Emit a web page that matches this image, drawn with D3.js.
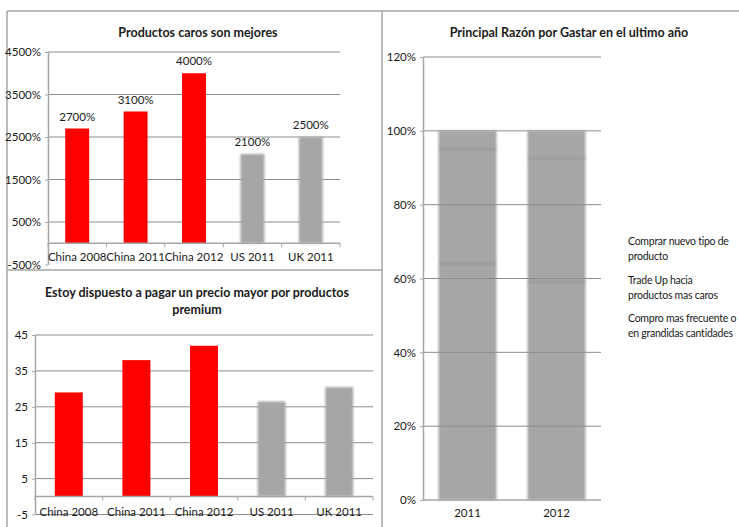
<!DOCTYPE html>
<html>
<head>
<meta charset="utf-8">
<script src="https://cdn.jsdelivr.net/npm/d3@7"></script>
<style>
  html, body { margin: 0; padding: 0; background: #fff; }
  svg { display: block; }
  text { font-family: "Lato", "Liberation Sans", sans-serif; fill: #1a1a1a; }
</style>
</head>
<body>
<svg id="chart" width="739" height="527"></svg>
<script>
// ---- data ----
const countryYears = ["China 2008", "China 2011", "China 2012", "US 2011", "UK 2011"];
const barColors = ["#ff0000", "#ff0000", "#ff0000", "#a6a6a6", "#a6a6a6"];

// "Productos caros son mejores" (%)
const caroValues = [2700, 3100, 4000, 2100, 2500];
const caroTicks = [-500, 500, 1500, 2500, 3500, 4500];

// "Estoy dispuesto a pagar un precio mayor por productos premium"
const premiumValues = [29, 38, 42, 26.5, 30.5];
const premiumTicks = [-5, 5, 15, 25, 35, 45];

// "Principal Razón por Gastar en el ultimo año" (stacked, %)
const years = ["2011", "2012"];
const comproMas = [64, 59];
const tradeUp = [31, 33.5];
const nuevoTipo = [5, 7.5];
const razonTicks = [0, 20, 40, 60, 80, 100, 120];
const legendLines = [
  ["Comprar nuevo tipo de", "producto"],
  ["Trade Up hacia", "productos mas caros"],
  ["Compro mas frecuente o", "en grandidas cantidades"]
];

const svg = d3.select("#chart");

const defs = svg.append("defs");
defs.append("filter").attr("id", "soft")
  .attr("x", "-20%").attr("y", "-5%").attr("width", "140%").attr("height", "110%")
  .append("feGaussianBlur").attr("stdDeviation", 1.3);

const BORDER = "#a6a6a6";
const GRID = "#8c8c8c";
const AXIS = "#a6a6a6";
const FS = 11.5;
const TITLE_FS = 12.5;

// ---- panel frames ----
const frame = svg.append("g").attr("stroke", BORDER).attr("stroke-width", 1.5).attr("fill", "none");
frame.append("line").attr("x1", 7).attr("x2", 739).attr("y1", 11).attr("y2", 11);
frame.append("line").attr("x1", 7).attr("x2", 7).attr("y1", 11).attr("y2", 527);
frame.append("line").attr("x1", 382).attr("x2", 382).attr("y1", 11).attr("y2", 527);
frame.append("line").attr("x1", 7).attr("x2", 382).attr("y1", 270).attr("y2", 270);

function yAxis(g, y, ticks, fmt, x0) {
  const ax = g.append("g").attr("transform", `translate(${x0},0)`)
    .call(d3.axisLeft(y).tickValues(ticks).tickSize(3).tickSizeOuter(0).tickPadding(4).tickFormat(fmt));
  ax.select(".domain").attr("stroke", AXIS).attr("stroke-width", 1.5);
  ax.selectAll(".tick line").attr("stroke", AXIS);
  ax.selectAll(".tick text").attr("font-size", FS).attr("fill", "#1a1a1a").attr("font-family", null);
  return ax;
}

function grid(g, y, vals, x0, x1) {
  g.append("g").selectAll("line").data(vals).join("line")
    .attr("x1", x0).attr("x2", x1)
    .attr("y1", d => y(d)).attr("y2", d => y(d))
    .attr("stroke", GRID).attr("stroke-width", 1);
}

function categoryBaseline(g, x, y0, padInner) {
  const [r0, r1] = x.range();
  g.append("line").attr("x1", r0).attr("x2", r1).attr("y1", y0).attr("y2", y0)
    .attr("stroke", AXIS).attr("stroke-width", 1.5);
  const half = x.step() * padInner / 2;
  const bounds = x.domain().map(d => x(d) - half).concat([r1]);
  g.append("g").selectAll("line").data(bounds).join("line")
    .attr("x1", d => d).attr("x2", d => d).attr("y1", y0).attr("y2", y0 + 4)
    .attr("stroke", AXIS).attr("stroke-width", 1);
}

function bars(g, x, y, values) {
  const b = g.append("g");
  values.forEach((v, i) => {
    const c = countryYears[i];
    b.append("rect")
      .attr("x", x(c)).attr("width", x.bandwidth())
      .attr("y", y(v)).attr("height", y(0) - y(v))
      .attr("fill", barColors[i])
      .attr("filter", barColors[i] === "#ff0000" ? null : "url(#soft)");
  });
}

// ---- chart 1: Productos caros son mejores ----
{
  const g = svg.append("g");
  const pad = 0.59;
  const x = d3.scaleBand().domain(countryYears).range([48, 340]).paddingInner(pad).paddingOuter(pad / 2);
  const y = d3.scaleLinear().domain([-500, 4500]).range([264.5, 52]);
  grid(g, y, caroTicks.filter(d => d > 0), 48, 340);
  yAxis(g, y, caroTicks, d => d + "%", 48);
  bars(g, x, y, caroValues);
  categoryBaseline(g, x, y(0), pad);
  g.append("g").selectAll("text").data(caroValues).join("text")
    .attr("x", (d, i) => x(countryYears[i]) + x.bandwidth() / 2)
    .attr("y", d => y(d) - 8)
    .attr("text-anchor", "middle").attr("font-size", FS)
    .text(d => d + "%");
  g.append("g").selectAll("text").data(countryYears).join("text")
    .attr("x", d => x(d) + x.bandwidth() / 2).attr("y", 261)
    .attr("text-anchor", "middle").attr("font-size", FS).text(d => d);
  g.append("text").attr("x", 198).attr("y", 37).attr("text-anchor", "middle")
    .attr("font-size", TITLE_FS).attr("font-weight", "bold").text("Productos caros son mejores");
}

// ---- chart 2: Estoy dispuesto a pagar ... ----
{
  const g = svg.append("g");
  const pad = 0.586;
  const x = d3.scaleBand().domain(countryYears).range([35, 373]).paddingInner(pad).paddingOuter(pad / 2);
  const y = d3.scaleLinear().domain([-5, 45]).range([514.5, 335]);
  grid(g, y, premiumTicks, 35, 373);
  yAxis(g, y, premiumTicks, d => d, 35);
  bars(g, x, y, premiumValues);
  categoryBaseline(g, x, y(0), pad);
  g.append("g").selectAll("text").data(countryYears).join("text")
    .attr("x", d => x(d) + x.bandwidth() / 2).attr("y", 516)
    .attr("text-anchor", "middle").attr("font-size", FS).text(d => d);
  const t = g.append("text").attr("text-anchor", "middle").attr("font-size", TITLE_FS).attr("font-weight", "bold");
  t.append("tspan").attr("x", 197).attr("y", 297).text("Estoy dispuesto a pagar un precio mayor por productos");
  t.append("tspan").attr("x", 197).attr("y", 314).text("premium");
}

// ---- chart 3: Principal Razón por Gastar en el ultimo año ----
{
  const g = svg.append("g");
  const pad = 0.348;
  const x = d3.scaleBand().domain(years).range([423, 601]).paddingInner(pad).paddingOuter(pad / 2);
  const y = d3.scaleLinear().domain([0, 120]).range([500, 57]);

  const rows = years.map((yr, i) => ({ year: yr, compro: comproMas[i], trade: tradeUp[i], nuevo: nuevoTipo[i] }));
  const stack = d3.stack().keys(["compro", "trade", "nuevo"])(rows);

  const sg = g.append("g").attr("filter", "url(#soft)");
  stack.forEach(layer => {
    sg.append("g").selectAll("rect").data(layer).join("rect")
      .attr("x", d => x(d.data.year)).attr("width", x.bandwidth())
      .attr("y", d => y(d[1])).attr("height", d => y(d[0]) - y(d[1]))
      .attr("fill", "#a6a6a6");
  });
  // faint seams where stacked segments meet
  stack.slice(0, 2).forEach(layer => {
    sg.append("g").selectAll("line").data(layer).join("line")
      .attr("x1", d => x(d.data.year)).attr("x2", d => x(d.data.year) + x.bandwidth())
      .attr("y1", d => y(d[1])).attr("y2", d => y(d[1]))
      .attr("stroke", "#939393").attr("stroke-width", 1.5);
  });

  grid(g, y, razonTicks.filter(d => d > 0), 423, 601);
  yAxis(g, y, razonTicks, d => d + "%", 423);
  g.append("line").attr("x1", 423).attr("x2", 601).attr("y1", y(0)).attr("y2", y(0))
    .attr("stroke", AXIS).attr("stroke-width", 1.5);
  g.append("g").selectAll("text").data(years).join("text")
    .attr("x", d => x(d) + x.bandwidth() / 2).attr("y", 517)
    .attr("text-anchor", "middle").attr("font-size", FS).text(d => d);
  g.append("text").attr("x", 569).attr("y", 37).attr("text-anchor", "middle")
    .attr("font-size", TITLE_FS).attr("font-weight", "bold").text("Principal Razón por Gastar en el ultimo año");

  const legendTop = [245, 284, 322];
  const lg = g.append("g");
  legendLines.forEach((lines, i) => {
    const t = lg.append("text").attr("font-size", 10.5).attr("letter-spacing", -0.25);
    lines.forEach((ln, j) => t.append("tspan").attr("x", 628).attr("y", legendTop[i] + j * 15).text(ln));
  });
}
</script>
</body>
</html>
